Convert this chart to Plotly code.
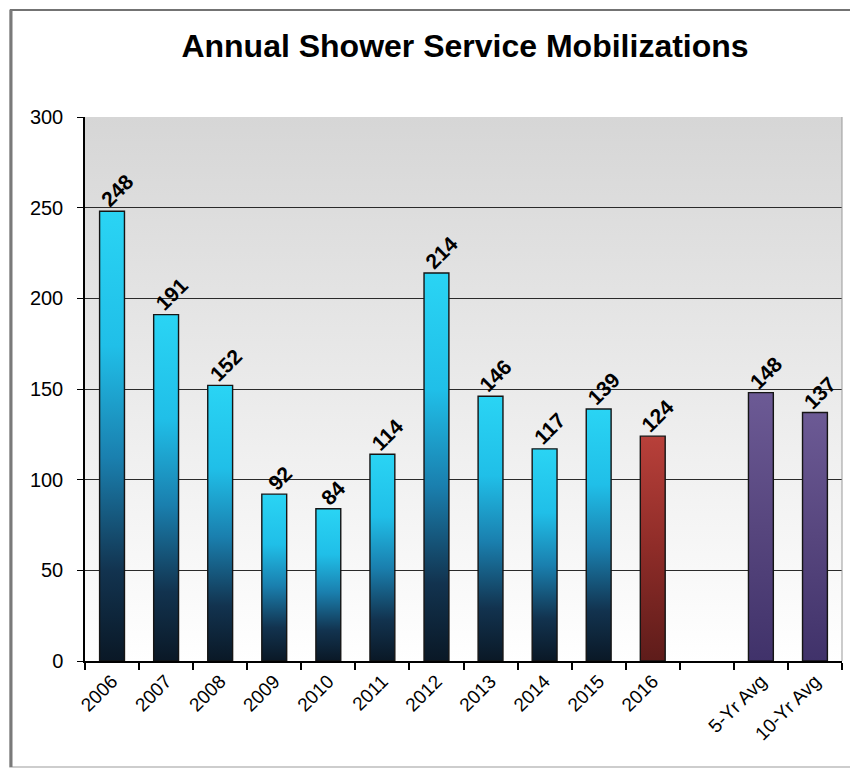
import base64
import plotly.graph_objects as go

# ---- data ----
categories = ["2006", "2007", "2008", "2009", "2010", "2011", "2012", "2013",
              "2014", "2015", "2016", "", "5-Yr Avg", "10-Yr Avg"]
values = [248, 191, 152, 92, 84, 114, 214, 146, 117, 139, 124, None, 148, 137]
bar_groups = ["hist"] * 10 + ["current", "none", "avg", "avg"]
y_ticks = [0, 50, 100, 150, 200, 250, 300]
title_text = "Annual Shower Service Mobilizations"

# ---- styles ----
FONT = "Arial, 'Liberation Sans', sans-serif"
scales = {
    "hist": [[0.0, "#0a1826"], [0.2, "#12334f"], [0.45, "#1a7fae"],
             [0.7, "#20bfe8"], [1.0, "#2ad4f4"]],
    "current": [[0.0, "#5e1c1a"], [0.5, "#8e2c28"], [1.0, "#b8403a"]],
    "avg": [[0.0, "#40326a"], [0.5, "#57467e"], [1.0, "#6c5a95"]],
}
BAR_W = 0.46

# page offset (browser body margin)
OFF = 8
W, H = 858 - OFF, 770 - OFF
L, T = 85 - OFF, 117 - OFF
R = W - (842 - OFF)
B = H - (661 - OFF)
pw, ph = W - L - R, H - T - B


def px(xp):
    return (xp - OFF - L) / pw


def py(yp):
    return (H - B - (yp - OFF)) / ph


n = len(categories)
fig = go.Figure()

for i, (v, g) in enumerate(zip(values, bar_groups)):
    if v is None:
        continue
    x0, x1 = i - BAR_W / 2, i + BAR_W / 2
    fig.add_trace(go.Scatter(
        x=[x0, x1, x1, x0, x0], y=[0, 0, v, v, 0],
        mode="lines", fill="toself",
        line=dict(color="#151515", width=1.4),
        fillgradient=dict(type="vertical", colorscale=scales[g], start=0, stop=v),
        hoverinfo="text", hovertext=f"{categories[i]}: {v}",
        showlegend=False,
    ))
    fig.add_annotation(
        x=i, y=v, xref="x", yref="y", text=f"<b>{v}</b>",
        textangle=-45, showarrow=False, xanchor="center", yanchor="bottom",
        xshift=5, yshift=-3,
        font=dict(family=FONT, size=21, color="#000"),
    )

# background gradient as svg image
svg = ('<svg xmlns="http://www.w3.org/2000/svg" width="100" height="100" '
       'viewBox="0 0 100 100" preserveAspectRatio="none">'
       '<defs><linearGradient id="g" x1="0" y1="0" x2="0" y2="1">'
       '<stop offset="0" stop-color="#d6d6d6"/>'
       '<stop offset="1" stop-color="#ffffff"/>'
       '</linearGradient></defs>'
       '<rect width="100" height="100" fill="url(#g)"/></svg>')
src = "data:image/svg+xml;base64," + base64.b64encode(svg.encode()).decode()
fig.add_layout_image(dict(source=src, xref="paper", yref="paper", x=0, y=1,
                          sizex=1, sizey=1, sizing="stretch", layer="below",
                          xanchor="left", yanchor="top"))

# outer frame
fig.add_shape(type="rect", xref="paper", yref="paper",
              x0=px(10), x1=px(857), y0=py(767), y1=py(10),
              line=dict(color="#bdbdbd", width=1.5), layer="below")
fig.add_shape(type="line", xref="paper", yref="paper",
              x0=px(10), x1=px(858), y0=py(10), y1=py(10),
              line=dict(color="#555555", width=1.5))
fig.add_shape(type="line", xref="paper", yref="paper",
              x0=px(11), x1=px(11), y0=py(767), y1=py(10),
              line=dict(color="#7a7a7a", width=3))
# right border of plot
fig.add_shape(type="line", xref="paper", yref="paper",
              x0=1, x1=1, y0=0, y1=1, line=dict(color="#999999", width=1))

fig.update_layout(
    width=W, height=H,
    margin=dict(l=L, r=R, t=T, b=B),
    paper_bgcolor="#ffffff", plot_bgcolor="#ffffff",
    title=dict(text=f"<b>{title_text}</b>", xref="container",
               x=(465 - OFF) / W, xanchor="center",
               y=1 - (46 - OFF) / H, yanchor="middle",
               font=dict(family=FONT, size=32, color="#000")),
    font=dict(family=FONT, color="#000"),
    showlegend=False,
    xaxis=dict(
        range=[-0.5, n - 0.5], tickmode="array",
        tickvals=list(range(n)), ticktext=categories,
        tickangle=-45, ticks="", showgrid=False, zeroline=False,
        showline=True, linecolor="#000", linewidth=1.5,
        tickfont=dict(family=FONT, size=19, color="#000"),
        minor=dict(ticks="outside", tick0=-0.5, dtick=1, ticklen=7,
                   tickcolor="#000", tickwidth=1.5, showgrid=False),
        fixedrange=True,
    ),
    yaxis=dict(
        range=[0, 300], tickmode="array", tickvals=y_ticks,
        ticks="outside", ticklen=6, tickcolor="#000", tickwidth=1,
        ticklabelstandoff=10,
        showgrid=True, gridcolor="#2a2a2a", gridwidth=1,
        zeroline=False, showline=True, linecolor="#000", linewidth=1.5,
        tickfont=dict(family=FONT, size=20, color="#000"),
        fixedrange=True,
    ),
)

fig.write_html("out.html")
